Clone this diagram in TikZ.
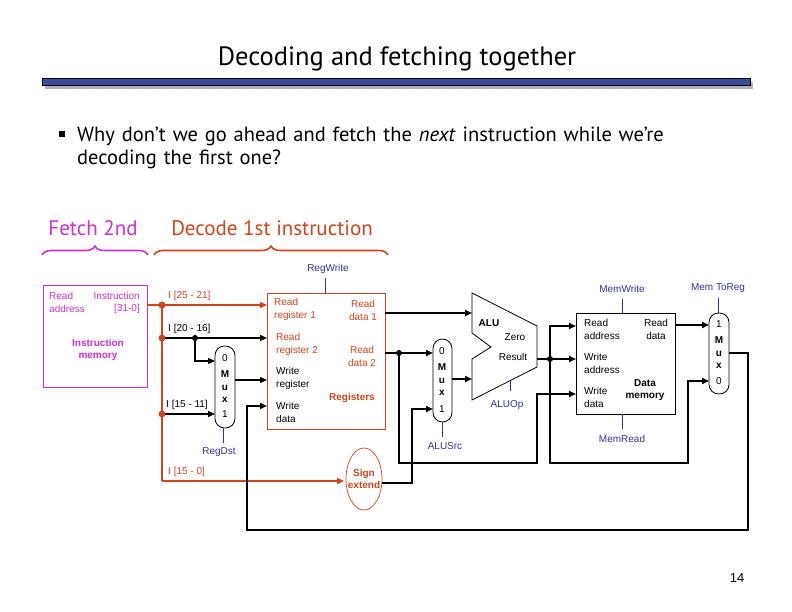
\documentclass[tikz,border=0pt]{standalone}
\usepackage{fontspec}
\setmainfont{Liberation Sans}
\newfontfamily\slidefont{PT Sans}
\usetikzlibrary{arrows.meta,decorations.pathreplacing,shapes.geometric}
\definecolor{wor}{HTML}{D0451F}
\definecolor{mag}{HTML}{CC33CC}
\definecolor{ctl}{HTML}{333399}
\definecolor{barb}{HTML}{3B4BA0}
\tikzset{
  lbl/.style={font=\fontsize{10}{13}\selectfont, inner sep=0pt, align=left},
  blbl/.style={font=\fontsize{10}{12.5}\selectfont\bfseries, inner sep=0pt, align=center},
  wire/.style={line width=2.6pt},
  owire/.style={line width=1.3pt, color=wor},
  thin/.style={line width=1.3pt},
  arr/.style={-{Triangle[length=7pt,width=6pt]}},
  ctlw/.style={ctl, line width=0.7pt},
  ctllbl/.style={font=\fontsize{10}{13}\selectfont, text=ctl, inner sep=0pt},
  muxbox/.style={draw, line width=0.8pt, rounded corners=9.5pt},
  dotb/.style={circle, fill, inner sep=0pt, minimum size=6pt},
  doto/.style={circle, fill=wor, inner sep=0pt, minimum size=7pt},
  bracepath/.style={line width=1.6pt, decorate, decoration={brace, amplitude=9pt}},
}
\begin{document}
\begin{tikzpicture}[x=1pt,y=-1pt]
\useasboundingbox (0,0) rectangle (792,612);
% title
\node[font=\slidefont\fontsize{26.5}{30}\selectfont] (title) at (397,59) {Decoding and fetching together};
\fill[gray!60] (45,82) rectangle (753,89);
\fill[barb] (42,78) rectangle (750,85);
\draw[line width=0.8pt] (42,78) rectangle (750,85);
\fill (59,131) rectangle (65,137);
\node[font=\slidefont\fontsize{20.5}{23}\selectfont, anchor=north west, inner sep=0pt, align=left, text width=680pt] (txt) at (77,127)
 {Why don’t we go ahead and fetch the \textit{next} instruction while we’re\\decoding the first one?};
\node[font=\slidefont\fontsize{21}{24}\selectfont, text=mag] (f2) at (93,228) {Fetch 2nd};
\node[font=\slidefont\fontsize{21}{24}\selectfont, text=wor] (d1) at (272,228) {Decode 1st instruction};
\draw[mag, bracepath] (42,255) -- (148,255);
\draw[wor, bracepath] (154,255) -- (388,255);

% instruction memory
\draw[mag, line width=0.8pt] (43,285) rectangle (147,387);
\node[lbl, text=mag, anchor=west] (ra) at (49,296) {Read};
\node[lbl, text=mag, anchor=east] (ins) at (140,296) {Instruction};
\node[lbl, text=mag, anchor=west] (ad) at (49,309) {address};
\node[lbl, text=mag, anchor=east] (b31) at (140,309) {[31-0]};
\node[blbl, text=mag] (imem) at (98,350) {Instruction\\memory};

% registers
\draw[wor, line width=0.8pt] (267,293) rectangle (385,429);
\node[lbl, text=wor, anchor=west] (rr1) at (274,309) {Read\\register 1};
\node[lbl, text=wor, anchor=west] (rr2) at (276,344) {Read\\register 2};
\node[lbl, anchor=west] (wr) at (276,378) {Write\\register};
\node[lbl, anchor=west] (wd) at (276,412) {Write\\data};
\node[lbl, text=wor, align=center] (rd1) at (363,310) {Read\\data 1};
\node[lbl, text=wor, align=center] (rd2) at (362,356) {Read\\data 2};
\node[blbl, text=wor] (regs) at (352,398) {Registers};
\node[ctllbl] (rw) at (328,269) {RegWrite};
\draw[ctlw] (325,293) -- (325,278);

% RegDst mux
\draw[muxbox] (215,346) rectangle (235,428);
\node[lbl] at (225,358) {0};
\node[blbl] at (225,387) {M\\u\\x};
\node[lbl] at (225,414) {1};
\draw[ctlw] (223,428) -- (223,443);
\node[ctllbl] (rdst) at (219,452) {RegDst};

% wires from instruction memory
\coordinate (s1) at (162,305);
\coordinate (s2) at (162,338);
\coordinate (s3) at (162,414);
\draw[owire, arr] (147,305) -- (267,305);
\draw[owire] (s1) -- (162,481);
\draw[owire, arr] (162,481) -- (344,481);
\draw[thin, arr] (s2) -- (267,338);
\draw[thin, arr] (195,338) -- (195,361) -- (215,361);
\draw[thin, arr] (s3) -- (215,414);
\draw[thin, arr] (235,380) -- (267,380);
\node[doto] at (s1) {};\node[doto] at (s2) {};\node[doto] at (s3) {};
\node[dotb] at (195,338) {};
\node[lbl, text=wor, anchor=south west] (i2521) at (168,301) {I [25 - 21]};
\node[lbl, anchor=south west] (i2016) at (168,334) {I [20 - 16]};
\node[lbl, anchor=south west] (i1511) at (166,410) {I [15 - 11]};
\node[lbl, text=wor, anchor=south west] (i150) at (168,477) {I [15 - 0]};

% sign extend
\draw[wor, line width=0.7pt] (364,479) ellipse (18pt and 31pt);
\node[blbl, text=wor] (se) at (364,479) {Sign\\extend};

% ALUSrc mux
\draw[muxbox] (433,339) rectangle (452,422);
\node[lbl] at (442,351) {0};
\node[blbl] at (442,380) {M\\u\\x};
\node[lbl] at (442,409) {1};
\draw[ctlw] (442,422) -- (442,437);
\node[ctllbl] (asrc) at (445,446) {ALUSrc};

% ALU
\draw[line width=0.8pt] (472,293) -- (537,326) -- (537,367) -- (472,400) -- (472,359) -- (491,347) -- (472,333) -- cycle;
\node[blbl] (alu) at (489,323) {ALU};
\node[lbl] (zero) at (515,337) {Zero};
\node[lbl] (res) at (513,357) {Result};
\draw[ctlw] (510,381) -- (510,391);
\node[ctllbl] (aop) at (507,405) {ALUOp};

% data memory
\draw[line width=0.8pt] (576,313) rectangle (675,414);
\node[lbl, anchor=west] at (584,329) {Read\\address};
\node[lbl, align=center] at (656,329) {Read\\data};
\node[lbl, anchor=west] at (584,363) {Write\\address};
\node[lbl, anchor=west] at (584,397) {Write\\data};
\node[blbl] (dm) at (645,390) {Data\\memory};
\draw[ctlw] (622,313) -- (622,299);
\node[ctllbl] (mw) at (622,289) {MemWrite};
\draw[ctlw] (622,414) -- (622,429);
\node[ctllbl] (mr) at (622,439) {MemRead};

% MemToReg mux
\draw[muxbox] (709,313) rectangle (729,394);
\node[lbl] at (719,324) {1};
\node[blbl] at (719,353) {M\\u\\x};
\node[lbl] at (719,381) {0};
\draw[ctlw] (718,313) -- (718,298);
\node[ctllbl] (m2r) at (718,288) {Mem ToReg};

% datapath wires
\draw[wire, arr] (385,313) -- (472,313);
\draw[wire, arr] (385,353) -- (433,353);
\draw[wire, arr] (399,353) -- (399,463) -- (537,463) -- (537,394) -- (576,394);
\draw[wire, arr] (382,483) -- (412,483) -- (412,409) -- (433,409);
\draw[wire, arr] (452,379) -- (472,379);
\draw[wire, arr] (537,359) -- (576,359);
\draw[wire, arr] (550,359) -- (550,326) -- (576,326);
\draw[wire, arr] (550,359) -- (550,463) -- (688,463) -- (688,381) -- (709,381);
\draw[wire, arr] (675,325) -- (709,325);
\draw[wire, arr] (729,353) -- (748,353) -- (748,530) -- (247,530) -- (247,406) -- (267,406);
\node[dotb] at (399,353) {};
\node[dotb] at (550,359) {};

\node[font=\fontsize{13}{14}\selectfont] (pg) at (737,578) {14};
\end{tikzpicture}
\end{document}
